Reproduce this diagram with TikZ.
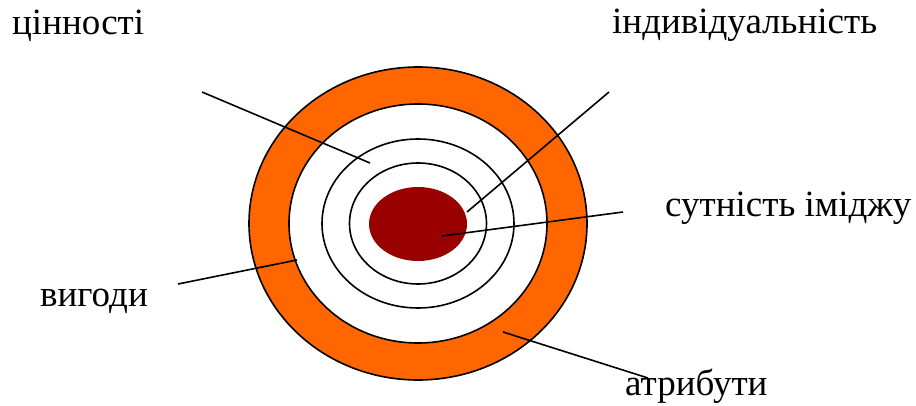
\documentclass[tikz,border=0pt]{standalone}
\usepackage{fontspec}
\setmainfont{Liberation Serif}
\begin{document}
\begin{tikzpicture}[x=1pt,y=-1pt,
  lbl/.style={anchor=base west,inner sep=0pt,font=\fontsize{37}{41}\selectfont},
  ring/.style={draw=black,line width=1.6pt},
  conn/.style={draw=black,line width=1.6pt}]
\definecolor{ringorange}{HTML}{FF6600}
\definecolor{coredred}{HTML}{990000}
\useasboundingbox (0,0) rectangle (916,406);
% rings
\path[ring,fill=ringorange] (418,223.5) ellipse [x radius=169,y radius=156.5];
\path[ring,fill=white] (418,223.5) ellipse [x radius=129,y radius=119.5];
\path[ring] (418,223.5) ellipse [x radius=96,y radius=84.5];
\path[ring] (418,223.5) ellipse [x radius=68.5,y radius=60.5];
\fill[coredred] (418,224) ellipse [x radius=49,y radius=37];
% labels
\node[lbl] (val) at (12,35) {цінності};
\node[lbl] (ind) at (612,34) {індивідуальність};
\node[lbl] (ess) at (665,217) {сутність іміджу};
\node[lbl] (ben) at (40,306) {вигоди};
\node[lbl] (att) at (625,395) {атрибути};
% connector ends
\coordinate (valA) at (202,92);  \coordinate (valB) at (370,163);
\coordinate (indA) at (609,92);  \coordinate (indB) at (467,212);
\coordinate (essA) at (623,212); \coordinate (essB) at (442,236);
\coordinate (benA) at (178,284); \coordinate (benB) at (297,260);
\coordinate (attA) at (503,332); \coordinate (attB) at (648,378);
\draw[conn] (valA) -- (valB);
\draw[conn] (indA) -- (indB);
\draw[conn] (essA) -- (essB);
\draw[conn] (benA) -- (benB);
\draw[conn] (attA) -- (attB);
\end{tikzpicture}
\end{document}
